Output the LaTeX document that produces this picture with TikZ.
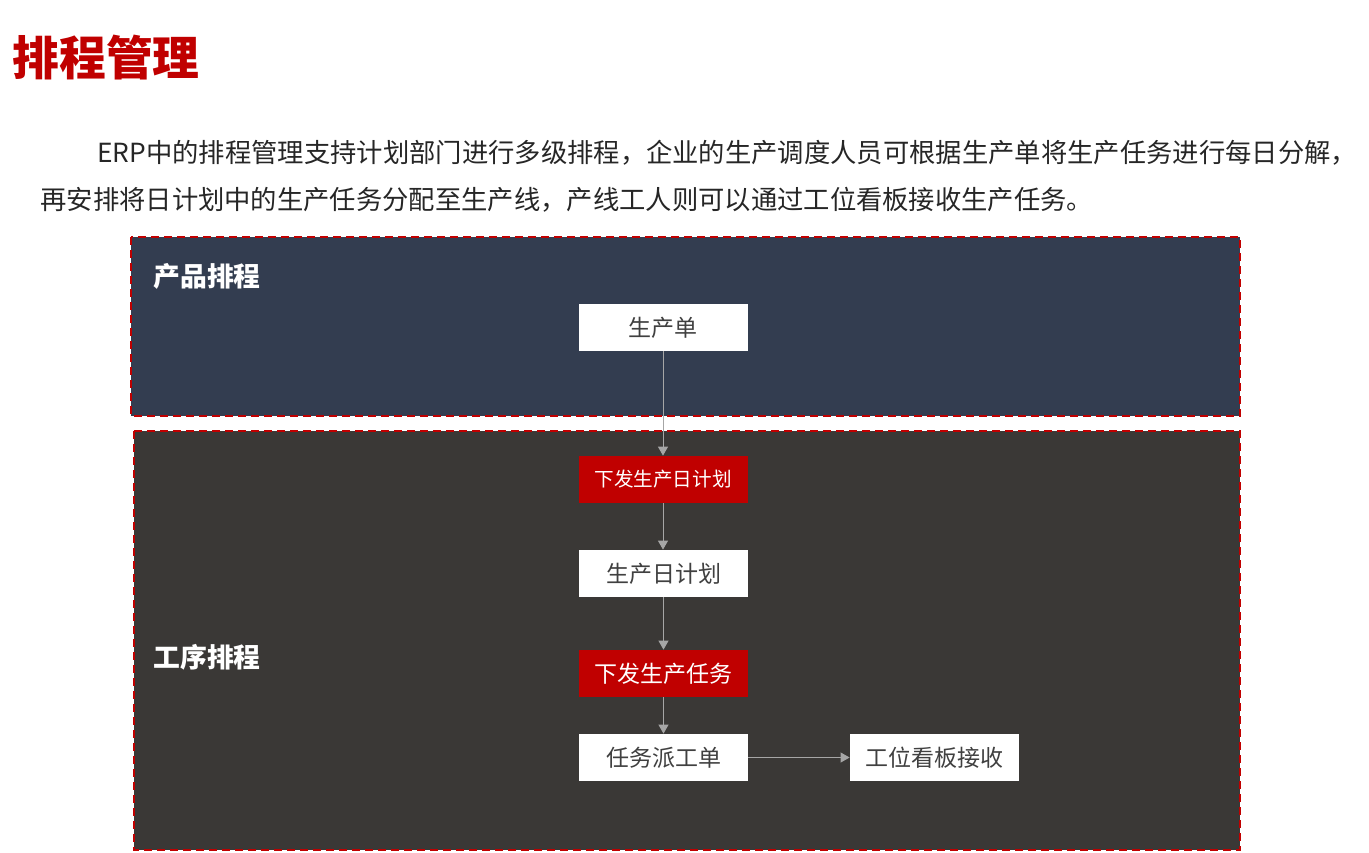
\documentclass[tikz,border=0pt]{standalone}
\usepackage{fontspec}
\setmainfont{Noto Sans CJK SC}
\usetikzlibrary{arrows.meta}
\definecolor{titlered}{HTML}{C00000}
\definecolor{panelblue}{HTML}{333D50}
\definecolor{panelgray}{HTML}{3A3836}
\definecolor{boxtext}{HTML}{404040}
\definecolor{linkgray}{HTML}{A6A6A6}
\definecolor{bodytext}{HTML}{262626}
\begin{document}
\begin{tikzpicture}[x=0.5pt,y=-0.5pt,
	panel/.style={draw=titlered,dash pattern=on 4pt off 2.5pt,line width=1pt},
	whitebox/.style={fill=white,minimum width=84.5pt,minimum height=23.5pt,inner sep=0pt,text=boxtext,font=\fontsize{11.5}{12}\selectfont},
	redbox/.style={whitebox,fill=titlered,text=white},
	paneltitle/.style={anchor=west,inner sep=0pt,text=white,font=\bfseries\fontsize{13.4}{14}\selectfont},
	bodyline/.style={anchor=west,inner sep=0pt,text=bodytext,font=\fontsize{13.16}{14}\selectfont},
	link/.style={draw=linkgray,line width=0.5pt,-{Triangle[length=4.5pt,width=5pt]}}]
	\useasboundingbox (0,0) rectangle (1369,852);
	% heading and text
	\node[anchor=west,inner sep=0pt,text=titlered,font=\bfseries\fontsize{23.4}{24}\selectfont] (title) at (12,58) {排程管理};
	\node[bodyline] (lineone) at (97,153) {ERP中的排程管理支持计划部门进行多级排程，企业的生产调度人员可根据生产单将生产任务进行每日分解，};
	\node[bodyline] (linetwo) at (40,200) {再安排将日计划中的生产任务分配至生产线，产线工人则可以通过工位看板接收生产任务。};
	% panels
	\path[fill=panelblue,panel] (131,237) rectangle (1240,416);
	\path[fill=panelgray,panel] (134,431) rectangle (1240,850);
	\node[paneltitle] (prodlabel) at (153,276) {产品排程};
	\node[paneltitle] (proclabel) at (153,657) {工序排程};
	% flow
	\node[whitebox] (order) at (663,327.5) {生产单};
	\node[redbox,font=\fontsize{9.8}{10}\selectfont] (issueday) at (663,479.5) {下发生产日计划};
	\node[whitebox] (dayplan) at (663.5,573.5) {生产日计划};
	\node[redbox] (issuetask) at (663.5,673.5) {下发生产任务};
	\node[whitebox] (dispatch) at (663.5,757.5) {任务派工单};
	\node[whitebox] (board) at (934.5,757.5) {工位看板接收};
	\draw[link] (order)--(issueday);
	\draw[link] (issueday.south)--(issueday.south|-dayplan.north);
	\draw[link] (dayplan.south)--(dayplan.south|-issuetask.north);
	\draw[link] (issuetask)--(dispatch);
	\draw[link] (dispatch)--(board);
\end{tikzpicture}
\end{document}
